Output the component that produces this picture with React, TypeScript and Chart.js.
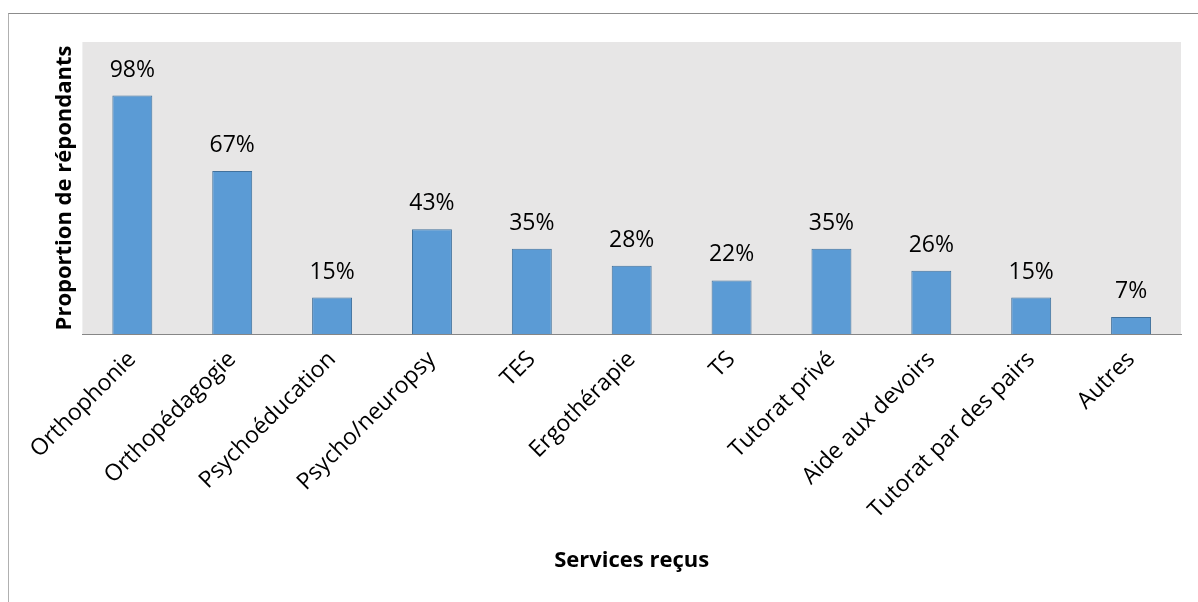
import React, { useEffect, useRef } from "react";
import { Chart, registerables } from "chart.js";

Chart.register(...registerables);

const categories = [
  "Orthophonie",
  "Orthopédagogie",
  "Psychoéducation",
  "Psycho/neuropsy",
  "TES",
  "Ergothérapie",
  "TS",
  "Tutorat privé",
  "Aide aux devoirs",
  "Tutorat par des pairs",
  "Autres",
];
const values = [98, 67, 15, 43, 35, 28, 22, 35, 26, 15, 7];
const yTitle = "Proportion de répondants";
const xTitle = "Services reçus";

const FONT = "'Open Sans', 'DejaVu Sans', sans-serif";

const bgPlugin = {
  id: "plotBg",
  beforeDraw(chart: any) {
    const { ctx, chartArea } = chart;
    ctx.save();
    ctx.fillStyle = "#e7e6e6";
    ctx.fillRect(chartArea.left, chartArea.top, chartArea.right - chartArea.left, chartArea.bottom - chartArea.top);
    ctx.restore();
  },
};

const labelPlugin = {
  id: "valueLabels",
  afterDatasetsDraw(chart: any) {
    const { ctx } = chart;
    const meta = chart.getDatasetMeta(0);
    ctx.save();
    ctx.font = `23px ${FONT}`;
    ctx.fillStyle = "#000";
    ctx.textAlign = "center";
    ctx.textBaseline = "alphabetic";
    meta.data.forEach((bar: any, i: number) => {
      ctx.fillText(`${values[i]}%`, bar.x, bar.y - 19);
    });
    ctx.restore();
  },
};

export default function App() {
  const ref = useRef<HTMLCanvasElement>(null);
  useEffect(() => {
    if (!ref.current) return;
    const chart = new Chart(ref.current, {
      type: "bar",
      data: {
        labels: categories,
        datasets: [
          {
            data: values,
            backgroundColor: "#5b9bd5",
            borderColor: "#41719c",
            borderWidth: 1,
            barPercentage: 0.4,
            categoryPercentage: 1,
          },
        ],
      },
      options: {
        animation: false,
        responsive: false,
        maintainAspectRatio: false,
        layout: { padding: { left: 52, top: 42, right: 17, bottom: 28 } },
        plugins: { legend: { display: false }, tooltip: { enabled: false } },
        scales: {
          x: {
            offset: true,
            grid: { display: false, drawTicks: false },
            border: { display: true, color: "#868686", width: 1 },
            ticks: {
              minRotation: 45,
              maxRotation: 45,
              padding: 12,
              color: "#000",
              font: { family: FONT, size: 23 },
            },
            title: {
              display: true,
              text: xTitle,
              color: "#000",
              font: { family: FONT, size: 22, weight: "bold" },
              padding: { top: 0, bottom: 0 },
            },
            afterFit(scale: any) {
              scale.height = 240;
              scale.paddingLeft = 0;
              scale.paddingRight = 0;
            },
          },
          y: {
            min: 0,
            max: 120,
            grid: { display: false, drawTicks: false },
            border: { display: false },
            ticks: { display: false },
            title: {
              display: true,
              text: yTitle,
              color: "#000",
              font: { family: FONT, size: 22, weight: "bold" },
              padding: { top: 0, bottom: 4 },
            },
          },
        },
      },
      plugins: [bgPlugin, labelPlugin],
    });
    return () => chart.destroy();
  }, []);

  return (
    <div style={{ position: "absolute", left: 0, top: 0, width: 1198, height: 602, overflow: "hidden", background: "#fff" }}>
      <div
        style={{
          position: "absolute",
          left: 8,
          top: 13,
          width: 1300,
          height: 700,
          borderTop: "1px solid #8c8c8c",
          borderLeft: "1px solid #b0b0b0",
        }}
      />
      <canvas ref={ref} width={1198} height={602} style={{ position: "absolute", left: 0, top: 0, width: 1198, height: 602 }} />
    </div>
  );
}
